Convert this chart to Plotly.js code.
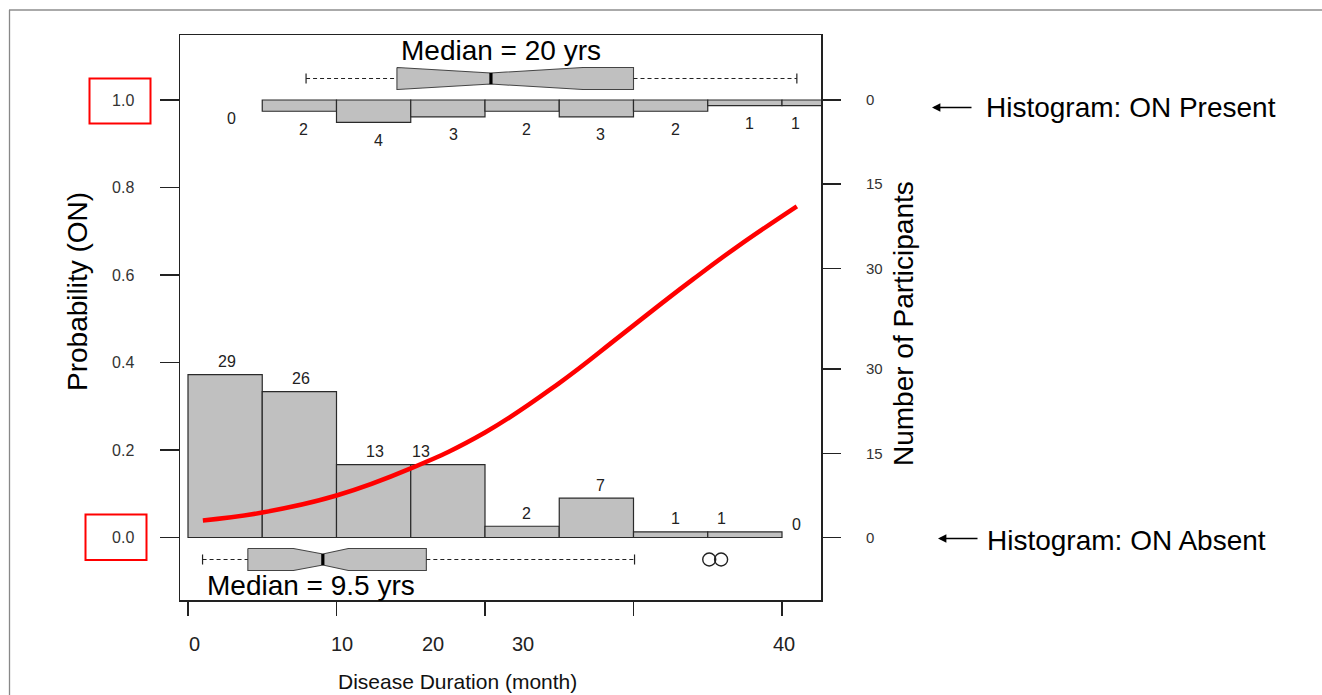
<!DOCTYPE html>
<html>
<head>
<meta charset="utf-8">
<script src="https://cdn.plot.ly/plotly-3.0.1.min.js"></script>
<style>
html,body{margin:0;padding:0;background:#fff;overflow:hidden}
#chart{width:1322px;height:695px}
</style>
</head>
<body>
<div id="chart"></div>
<script>
// ---------------- data ----------------
const binCenters    = [2.5, 7.5, 12.5, 17.5, 22.5, 27.5, 32.5, 37.5, 42.5];
const presentCounts = [0, 2, 4, 3, 2, 3, 2, 1, 1];      // Histogram: ON Present (top)
const absentCounts  = [29, 26, 13, 13, 2, 7, 1, 1, 0];  // Histogram: ON Absent (bottom)
const presentLabelX = [2.9, 7.8, 12.8, 17.9, 22.8, 27.8, 32.8, 37.8, 40.9];
const absentLabelX  = [2.6, 7.6, 12.6, 15.7, 22.8, 27.8, 32.8, 35.9, 41.0];

// fitted probability curve
const curveX = [1, 5, 10, 15, 20, 25, 29, 32, 34, 37, 41];
const curveY = [0.039, 0.057, 0.096, 0.158, 0.240, 0.353, 0.458, 0.538, 0.590, 0.665, 0.757];

// box plot stats: [lower whisker, Q1, median, Q3, upper whisker]
const presentBoxStats = [7.95, 14.07, 20.4, 30.0, 41.0];
const presentNotch    = [14.1, 26.6];
const absentBoxStats  = [0.98, 4.03, 9.08, 16.05, 30.07];
const absentNotch     = [7.1, 10.8];
const absentOutliers  = [35.1, 35.9];

const xTickVals     = [0, 10, 20, 30, 40];
const xTickText     = ['0', '10', '20', '30', '40'];
const xTickLabelX   = [0.46, 10.34, 16.47, 22.55, 40.16];
const yTickVals     = [0, 0.2, 0.4, 0.6, 0.8, 1.0];
const yTickText     = ['0.0', '0.2', '0.4', '0.6', '0.8', '1.0'];
const countTickVals = [0, 15, 30];
const countTickText = ['0', '15', '30'];

// ---------------- geometry / styling ----------------
const FONT = 'Liberation Sans, Arial, Helvetica, sans-serif';
const W = 1322, H = 695;
const L = 180, R = 821, T = 35, B = 600;          // plot frame in px
const X0PX = 188, PXPERX = 594 / 40;               // x = 0 at 188px
const Y0PX = 537.5, PXPERY = 437.5;                // prob 0 at 537.5px, 1 at 100px
const xmin = (L - X0PX) / PXPERX, xmax = (R - X0PX) / PXPERX;
const ymin = (Y0PX - B) / PXPERY, ymax = (Y0PX - T) / PXPERY;
const k = 0.01283;                                 // probability units per participant
const topOrigin = 1 / k;                           // count-axis position of prob = 1
const px = v => (v - L) / (R - L);
const py = v => (B - v) / (B - T);

const BAR_FILL = '#c0c0c0', EDGE = '#2a2a2a';

const traces = [];

// bottom histogram (ON absent), rising from prob = 0
const absIdx = absentCounts.map((c, i) => i).filter(i => absentCounts[i] > 0);
traces.push({
  type: 'bar', xaxis: 'x', yaxis: 'y',
  x: absIdx.map(i => binCenters[i]), y: absIdx.map(i => absentCounts[i] * k),
  base: 0, width: 5,
  marker: {color: BAR_FILL, line: {color: EDGE, width: 1.2}},
  hoverinfo: 'skip'
});
// top histogram (ON present), hanging down from prob = 1
const preIdx = presentCounts.map((c, i) => i).filter(i => presentCounts[i] > 0);
traces.push({
  type: 'bar', xaxis: 'x', yaxis: 'y',
  x: preIdx.map(i => binCenters[i]), y: preIdx.map(i => -presentCounts[i] * k),
  base: 1, width: 5,
  marker: {color: BAR_FILL, line: {color: EDGE, width: 1.2}},
  hoverinfo: 'skip'
});
// count axis carrier (no marks)
traces.push({type: 'scatter', mode: 'markers', xaxis: 'x', yaxis: 'y2', x: [], y: [], hoverinfo: 'skip'});

// notched box plots drawn with the library scales
function boxTraces(stats, notch, yc, outliers) {
  const [lo, q1, med, q3, hi] = stats;
  const h = 0.0252, hn = 0.0127, cap = 0.0115;
  const out = [];
  out.push({
    type: 'scatter', mode: 'lines', xaxis: 'x', yaxis: 'y',
    x: [q1, notch[0], med, notch[1], q3, q3, notch[1], med, notch[0], q1, q1],
    y: [yc + h, yc + h, yc + hn, yc + h, yc + h, yc - h, yc - h, yc - hn, yc - h, yc - h, yc + h],
    fill: 'toself', fillcolor: BAR_FILL, line: {color: '#444', width: 1.1}, hoverinfo: 'skip'
  });
  out.push({
    type: 'scatter', mode: 'lines', x: [lo, q1, null, q3, hi], y: [yc, yc, null, yc, yc],
    line: {color: '#222', width: 1.1, dash: '4px,3px'}, hoverinfo: 'skip'
  });
  out.push({
    type: 'scatter', mode: 'lines', x: [lo, lo, null, hi, hi],
    y: [yc - cap, yc + cap, null, yc - cap, yc + cap],
    line: {color: '#222', width: 1.2}, hoverinfo: 'skip'
  });
  out.push({
    type: 'scatter', mode: 'lines', x: [med, med], y: [yc - hn, yc + hn],
    line: {color: '#000', width: 3.2}, hoverinfo: 'skip'
  });
  if (outliers && outliers.length) {
    out.push({
      type: 'scatter', mode: 'markers', x: outliers, y: outliers.map(() => yc),
      marker: {symbol: 'circle-open', size: 13, color: '#222', line: {width: 1.4, color: '#222'}},
      hoverinfo: 'skip'
    });
  }
  return out;
}
traces.push(...boxTraces(presentBoxStats, presentNotch, (Y0PX - 78.5) / PXPERY, []));
traces.push(...boxTraces(absentBoxStats, absentNotch, (Y0PX - 559.5) / PXPERY, absentOutliers));

// logistic curve
traces.push({
  type: 'scatter', mode: 'lines', x: curveX, y: curveY,
  line: {color: '#ff0000', width: 4.5, shape: 'spline', smoothing: 1.2},
  hoverinfo: 'skip'
});

// ---------------- annotations ----------------
const ann = [];
const txt = (o) => Object.assign({showarrow: false, xanchor: 'center', yanchor: 'middle'}, o);
absentCounts.forEach((c, i) => ann.push(txt({
  xref: 'x', yref: 'y2', x: absentLabelX[i], y: c, yshift: 13,
  text: String(c), font: {size: 16, color: '#222', family: FONT}
})));
presentCounts.forEach((c, i) => ann.push(txt({
  xref: 'x', yref: 'y2', x: presentLabelX[i], y: topOrigin - c, yshift: -18,
  text: String(c), font: {size: 16, color: '#222', family: FONT}
})));
xTickText.forEach((t, i) => ann.push(txt({
  xref: 'x', yref: 'paper', x: xTickLabelX[i], y: py(644),
  text: t, font: {size: 20, color: '#222', family: FONT}
})));
ann.push(txt({xref: 'paper', yref: 'paper', x: px(457), y: py(681), text: 'Disease Duration (month)',
  font: {size: 21, color: '#111', family: FONT}}));
ann.push(txt({xref: 'paper', yref: 'paper', x: px(77), y: py(291), text: 'Probability (ON)', textangle: -90,
  font: {size: 28, color: '#000', family: FONT}}));
ann.push(txt({xref: 'paper', yref: 'paper', x: px(903), y: py(324), text: 'Number of Participants', textangle: -90,
  font: {size: 28, color: '#000', family: FONT}}));
ann.push(txt({xref: 'paper', yref: 'paper', x: px(984), y: py(108), xanchor: 'left', text: 'Histogram: ON Present',
  font: {size: 28, color: '#000', family: FONT}}));
ann.push(txt({xref: 'paper', yref: 'paper', x: px(985), y: py(540), xanchor: 'left', text: 'Histogram: ON Absent',
  font: {size: 28, color: '#000', family: FONT}}));
ann.push({xref: 'paper', yref: 'paper', x: px(932), y: py(107.5), ax: 41, ay: 0, text: '',
  showarrow: true, arrowhead: 2, arrowsize: 1.2, arrowwidth: 1.4, arrowcolor: '#000'});
ann.push({xref: 'paper', yref: 'paper', x: px(938), y: py(538.5), ax: 41, ay: 0, text: '',
  showarrow: true, arrowhead: 2, arrowsize: 1.2, arrowwidth: 1.4, arrowcolor: '#000'});
ann.push(txt({xref: 'x', yref: 'paper', x: (501 - X0PX) / PXPERX, y: py(50), text: 'Median = 20 yrs',
  font: {size: 28, color: '#000', family: FONT}}));
ann.push(txt({xref: 'x', yref: 'paper', x: (311 - X0PX) / PXPERX, y: py(585), text: 'Median = 9.5 yrs',
  font: {size: 28, color: '#000', family: FONT}}));

// ---------------- shapes ----------------
const shapes = [
  {type: 'rect', xref: 'paper', yref: 'paper', x0: px(89.5), x1: px(150.5), y0: py(123.5), y1: py(78.5),
   line: {color: '#ff0000', width: 2}, fillcolor: 'rgba(0,0,0,0)'},
  {type: 'rect', xref: 'paper', yref: 'paper', x0: px(85.5), x1: px(146.5), y0: py(560), y1: py(514.5),
   line: {color: '#ff0000', width: 2}, fillcolor: 'rgba(0,0,0,0)'},
  {type: 'line', xref: 'paper', yref: 'paper', x0: px(9), x1: px(1322), y0: py(10), y1: py(10),
   line: {color: '#aaaaaa', width: 2}},
  {type: 'line', xref: 'paper', yref: 'paper', x0: px(9.5), x1: px(9.5), y0: py(10), y1: py(695),
   line: {color: '#888888', width: 1.3}}
];

const layout = {
  width: W, height: H,
  margin: {l: L, r: W - R, t: T, b: H - B, pad: 0, autoexpand: false},
  paper_bgcolor: '#ffffff', plot_bgcolor: '#ffffff',
  showlegend: false, barmode: 'overlay', bargap: 0,
  font: {family: FONT, color: '#000'},
  xaxis: {
    range: [xmin, xmax], tickmode: 'array', tickvals: xTickVals, showticklabels: false,
    ticks: 'outside', ticklen: 14, tickwidth: 1.3, tickcolor: '#222',
    showline: true, mirror: true, linecolor: '#222', linewidth: 1.5,
    showgrid: false, zeroline: false, fixedrange: true
  },
  yaxis: {
    range: [ymin, ymax], tickmode: 'array', tickvals: yTickVals, ticktext: yTickText,
    ticks: 'outside', ticklen: 19, tickwidth: 1.5, tickcolor: '#222',
    showline: true, mirror: true, linecolor: '#222', linewidth: 1.5,
    showgrid: false, zeroline: false, fixedrange: true,
    tickfont: {size: 16, color: '#333', family: FONT}, ticklabelstandoff: 22
  },
  yaxis2: {
    overlaying: 'y', side: 'right', anchor: 'x',
    range: [ymin / k, ymax / k], tickmode: 'array',
    tickvals: countTickVals.concat(countTickVals.slice().reverse().map(v => topOrigin - v)),
    ticktext: countTickText.concat(countTickText.slice().reverse()),
    ticks: 'outside', ticklen: 19, tickwidth: 1.5, tickcolor: '#222',
    showline: false, showgrid: false, zeroline: false, fixedrange: true,
    tickfont: {size: 15, color: '#333', family: FONT}, ticklabelstandoff: 22
  },
  annotations: ann,
  shapes: shapes
};

Plotly.newPlot('chart', traces, layout, {staticPlot: true, displayModeBar: false});
</script>
</body>
</html>
